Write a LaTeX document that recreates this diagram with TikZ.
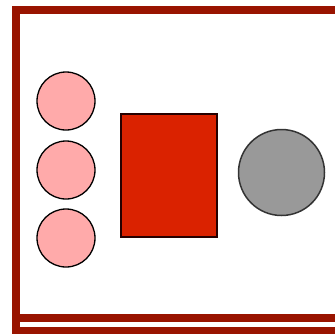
\documentclass[tikz,border=0pt]{standalone}
\begin{document}
\begin{tikzpicture}[x=1pt,y=-1pt,
  framecol/.style={draw=frameRed,line width=8pt},
  pinkball/.style={circle,draw=black,fill=pinkFill,line width=1.3pt,minimum size=58pt,inner sep=0pt},
  redbox/.style={rectangle,draw=black!85!red,fill=boxRed,line width=2pt,minimum width=96pt,minimum height=123pt,inner sep=0pt},
  grayball/.style={circle,draw=black!80,fill=grayFill,line width=1.5pt,minimum size=86pt,inner sep=0pt}]
\definecolor{frameRed}{RGB}{153,20,0}
\definecolor{pinkFill}{RGB}{255,170,170}
\definecolor{boxRed}{RGB}{218,34,0}
\definecolor{grayFill}{RGB}{153,153,153}
\useasboundingbox (0,0) rectangle (335,333);
\fill[white] (0,0) rectangle (335,333);
% frame
\draw[framecol] (16.3,340) -- (16.3,10) -- (340,10);
\draw[framecol] (12.3,317.5) -- (340,317.5);
\draw[framecol] (12.3,331) -- (340,331);
% nodes
\node[pinkball] (c1) at (66,101) {};
\node[pinkball] (c2) at (66,170) {};
\node[pinkball] (c3) at (66,238) {};
\node[redbox] (box) at (169,175.5) {};
\node[grayball] (g) at (281.5,172.5) {};
\end{tikzpicture}
\end{document}
